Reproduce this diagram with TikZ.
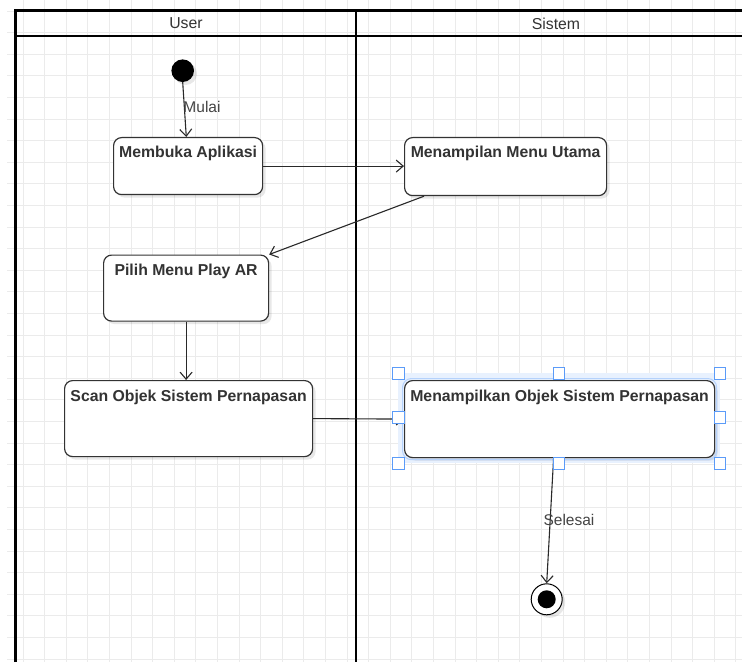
\documentclass[tikz,border=0pt]{standalone}
\usepackage{fontspec}
\setmainfont{Liberation Sans}
\usetikzlibrary{arrows.meta,calc,shadows}
\definecolor{edge}{HTML}{333333}
\definecolor{gridc}{HTML}{EBEBEB}
\definecolor{selfill}{HTML}{E8F1FE}
\definecolor{selline}{HTML}{5B9BF8}
\definecolor{lbltext}{HTML}{444444}
\begin{document}
\begin{tikzpicture}[x=1pt,y=-1pt,
  softshadow/.style={drop shadow={shadow xshift=3pt,shadow yshift=-3pt,fill=black,opacity=0.09}},
  actbox/.style={draw=edge, line width=1.2pt, fill=white, rounded corners=8pt,
    inner sep=0pt, anchor=north west, softshadow},
  btxt/.style={anchor=north, inner sep=0pt, yshift=-9.4pt, text height=11.4pt,
    font=\bfseries\fontsize{15.8}{18}\selectfont, text=edge},
  hdr/.style={font=\fontsize{15.8}{18}\selectfont, text=edge, inner sep=0pt},
  lbl/.style={font=\fontsize{15.5}{18}\selectfont, text=lbltext, inner sep=0pt},
  conn/.style={draw=edge!80!black, line width=1.1pt, -{Straight Barb[length=7pt,width=12pt]}},
  lane/.style={line width=2.2pt, draw=black},
  handle/.style={draw=selline, fill=white, line width=1pt}
]
\fill[white] (0,0) rectangle (742,666);
\useasboundingbox (0,0) rectangle (742,666);

% grid
\foreach \i in {0,...,33}
  \draw[gridc, line width=0.8pt] ({22.9+21.6*\i},0) -- ({22.9+21.6*\i},662);
\foreach \j in {0,...,30}
  \draw[gridc, line width=0.8pt] (7,{11+21.6*\j}) -- (742,{11+21.6*\j});

% swimlanes
\draw[lane] (15.5,662) -- (15.5,10.5) -- (742,10.5);
\draw[lane] (15.5,36) -- (742,36);
\draw[lane] (356,10.5) -- (356,662);
\node[hdr] (uh) at (186,23.5) {User};
\node[hdr] (sh) at (556,23.5) {Sistem};

% start
\node[circle, fill=black, minimum size=22.6pt, inner sep=0pt, softshadow] (start) at (182.7,70.7) {};

% activities
\node[actbox, minimum width=149pt, minimum height=57pt,
  label={[btxt]north:Membuka Aplikasi}] (mem) at (113,137) {};
\node[actbox, minimum width=202pt, minimum height=58pt,
  label={[btxt]north:Menampilan Menu Utama}] (mmu) at (404,137) {};
\node[actbox, minimum width=165pt, minimum height=66pt,
  label={[btxt]north:Pilih Menu Play AR}] (pilih) at (103,254.5) {};
\node[actbox, minimum width=248pt, minimum height=76pt,
  label={[btxt]north:Scan Objek Sistem Pernapasan}] (scan) at (64,380) {};

% selected activity
\fill[selfill] (398.3,373.3) rectangle (720,463.3);
\node[actbox, minimum width=310pt, minimum height=77pt,
  label={[btxt]north:Menampilkan Objek Sistem Pernapasan}] (mo) at (404,380) {};
\draw[selline!45, line width=1pt, rounded corners=9pt]
  ($(mo.north west)+(-1.5,-1.5)$) rectangle ($(mo.south east)+(1.5,1.5)$);

% end
\node[circle, draw=black, line width=1pt, fill=white, minimum size=31pt, inner sep=0pt, softshadow] (end) at (546.7,599.3) {};
\node[circle, fill=black, minimum size=18pt, inner sep=0pt] (endin) at (end.center) {};

% connectors
\draw[conn] (start.south) -- ([xshift=-1.8pt]mem.north);
\node[lbl] (mulai) at (202,107.3) {Mulai};
\draw[conn] (mem.east) -- (mmu.west |- mem.east);
\draw[conn] ([xshift=20pt]mmu.south west) -- (pilih.north east);
\draw[conn] (pilih.south) -- (scan.north -| pilih.south);
\draw[conn] (scan.east) -- (mo.west);
\draw[conn] ([xshift=-6pt]mo.south) -- (end.north);
\node[lbl] (selesai) at (569,520) {Selesai};

% selection handles (corners and edge midpoints)
\foreach \hx/\hy in {398.3/373.3, 559/373.3, 720/373.3,
                     398.3/417.7, 720/417.7,
                     398.3/463.3, 559/463.3, 720/463.3}
  \draw[handle] (\hx-5.8,\hy-5.8) rectangle (\hx+5.8,\hy+5.8);
\end{tikzpicture}
\end{document}
